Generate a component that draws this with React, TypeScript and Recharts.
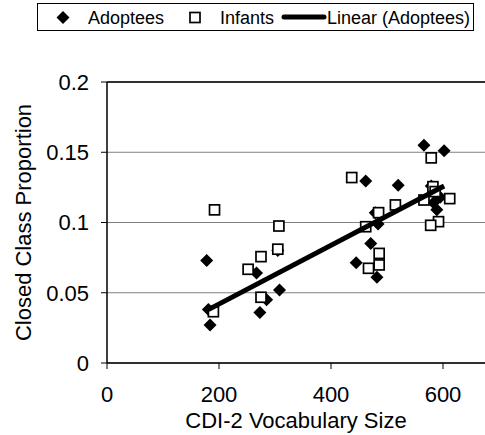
import React from "react"
import {
  ScatterChart,
  Scatter,
  XAxis,
  YAxis,
  CartesianGrid,
  ReferenceLine,
} from "recharts"

const FONT = "'Liberation Sans', Arial, sans-serif"

// values
const adopteeVocab = [178, 184, 181, 267, 273, 285, 308, 305, 445, 462, 471, 479, 484, 482, 520, 566, 602, 579, 583, 589, 595]
const adopteeProp = [0.073, 0.027, 0.038, 0.064, 0.036, 0.045, 0.052, 0.08, 0.0714, 0.1295, 0.085, 0.107, 0.099, 0.061, 0.1265, 0.155, 0.151, 0.126, 0.114, 0.109, 0.118]

const infantVocab = [192, 190, 252, 275, 275, 307, 305, 437, 579, 485, 462, 515, 486, 486, 467, 582, 566, 612, 592, 578, 586]
const infantProp = [0.109, 0.0365, 0.0667, 0.0757, 0.0468, 0.0975, 0.081, 0.132, 0.146, 0.107, 0.097, 0.1125, 0.078, 0.0698, 0.0674, 0.1255, 0.116, 0.117, 0.1006, 0.098, 0.122]

// trendline end points (Linear (Adoptees))
const trendVocab = [181, 602]
const trendProp = [0.038, 0.126]

const xTicks = [0, 200, 400, 600]
const yTicks = [0, 0.05, 0.1, 0.15, 0.2]

const adoptees = adopteeVocab.map((x, i) => ({ x, y: adopteeProp[i] }))
const infants = infantVocab.map((x, i) => ({ x, y: infantProp[i] }))
const trend = trendVocab.map((x, i) => ({ x, y: trendProp[i] }))

const Diamond = (props: any) => {
  const { cx, cy } = props
  const r = 6.5
  return <path d={`M${cx},${cy - r}L${cx + r},${cy}L${cx},${cy + r}L${cx - r},${cy}Z`} fill="#000" />
}

const Square = (props: any) => {
  const { cx, cy } = props
  const s = 10
  return <rect x={cx - s / 2} y={cy - s / 2} width={s} height={s} fill="#fff" stroke="#000" strokeWidth={1.7} />
}

const NoDot = () => <g />

function ChartLegend() {
  return (
    <svg width={485} height={40} style={{ position: "absolute", left: 0, top: 0 }}>
      <rect x={37.5} y={3.5} width={436} height={27} fill="#fff" stroke="#000" strokeWidth={1} />
      <Diamond cx={63} cy={17.5} />
      <text x={88} y={23.5} fontSize={18} fontFamily={FONT} fill="#000">Adoptees</text>
      <Square cx={195} cy={17.5} />
      <text x={220} y={23.5} fontSize={18} fontFamily={FONT} fill="#000">Infants</text>
      <line x1={284} y1={17} x2={324} y2={17} stroke="#000" strokeWidth={5} strokeLinecap="round" />
      <text x={327} y={23.5} fontSize={18} fontFamily={FONT} fill="#000">Linear (Adoptees)</text>
    </svg>
  )
}

export default function App() {
  const tickStyle = { fontSize: 22, fill: "#000", fontFamily: FONT }
  return (
    <div style={{ position: "absolute", left: 0, top: 0, width: 485, height: 435, background: "#fff" }}>
      <ScatterChart width={485} height={435} margin={{ top: 82, right: 0, bottom: 0, left: 0 }}>
        <CartesianGrid horizontal vertical={false} stroke="#808080" strokeWidth={1} />
        <XAxis
          type="number"
          dataKey="x"
          domain={[0, 675]}
          ticks={xTicks}
          allowDataOverflow
          height={72}
          tick={tickStyle}
          tickSize={6}
          tickMargin={17}
          stroke="#000"
          tickLine={{ stroke: "#000" }}
          axisLine={{ stroke: "#000", strokeWidth: 1.5 }}
          label={({ viewBox }: any) => (
            <text
              x={viewBox.x + viewBox.width / 2}
              y={428}
              textAnchor="middle"
              fontSize={22}
              fontFamily={FONT}
              fill="#000"
            >
              CDI-2 Vocabulary Size
            </text>
          )}
        />
        <YAxis
          type="number"
          dataKey="y"
          domain={[0, 0.2]}
          ticks={yTicks}
          width={107}
          tick={tickStyle}
          tickSize={6}
          tickMargin={12}
          stroke="#000"
          tickLine={{ stroke: "#000" }}
          axisLine={{ stroke: "#000", strokeWidth: 1.5 }}
          label={({ viewBox }: any) => {
            const cy = viewBox.y + viewBox.height / 2
            return (
              <text
                x={31}
                y={cy}
                transform={`rotate(-90, 31, ${cy})`}
                textAnchor="middle"
                fontSize={22}
                fontFamily={FONT}
                fill="#000"
              >
                Closed Class Proportion
              </text>
            )
          }}
        />
        <ReferenceLine y={0.2} stroke="#000" strokeWidth={1.5} ifOverflow="extendDomain" />
        <Scatter name="Adoptees" data={adoptees} shape={Diamond} isAnimationActive={false} />
        <Scatter name="Infants" data={infants} shape={Square} isAnimationActive={false} />
        <Scatter
          name="Linear (Adoptees)"
          data={trend}
          shape={NoDot}
          line={{ stroke: "#000", strokeWidth: 5 }}
          isAnimationActive={false}
        />
      </ScatterChart>
      <ChartLegend />
    </div>
  )
}
